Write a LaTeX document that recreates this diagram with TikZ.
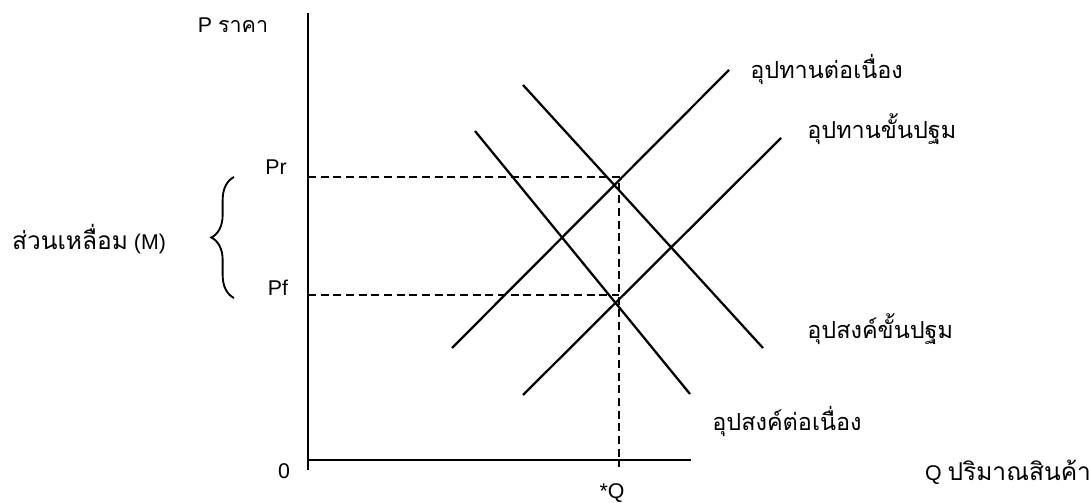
\documentclass[tikz,border=0pt]{standalone}
\usepackage{fontspec}
\setmainfont{Liberation Sans}
\newfontfamily\thaifont[Script=Thai,Scale=1.15]{Loma}
\usetikzlibrary{decorations.pathreplacing}
\begin{document}
\begin{tikzpicture}[x=0.75pt,y=-0.75pt,
  curve/.style={line width=1.7pt},
  axisline/.style={line width=1.7pt},
  guide/.style={line width=1.6pt, dash pattern=on 6pt off 3.5pt},
  lbl/.style={inner sep=0pt, font=\fontsize{16}{19}\selectfont},
  tlbl/.style={inner sep=0pt, anchor=base west, font=\fontsize{15.3}{18}\selectfont\thaifont}]
\useasboundingbox (0,0) rectangle (1089,503);
% axes
\coordinate (ytop) at (308,13);
\coordinate (ybot) at (308,470);
\coordinate (xl) at (308,460);
\coordinate (xr) at (691,460);
\draw[axisline] (ytop) -- (ybot);
\draw[axisline] (xl) -- (xr);
% curves
\coordinate (sc1) at (452,348); \coordinate (sc2) at (729,70);
\coordinate (sp1) at (523,395); \coordinate (sp2) at (781,138);
\coordinate (dp1) at (523,85);  \coordinate (dp2) at (763,348);
\coordinate (dc1) at (475,131); \coordinate (dc2) at (690,394);
\draw[curve] (sc1) -- (sc2);
\draw[curve] (sp1) -- (sp2);
\draw[curve] (dp1) -- (dp2);
\draw[curve] (dc1) -- (dc2);
% guides
\coordinate (pr) at (308,177);
\coordinate (pf) at (308,295);
\coordinate (er) at (619,177);
\coordinate (ef) at (619,295);
\coordinate (qb) at (619,467);
\draw[guide] (pr) -- (er) -- (qb);
\draw[guide] (pf) -- (ef);
% brace
\coordinate (bb) at (234,298);
\coordinate (bt) at (234,177);
\draw[line width=1.4pt, decorate, decoration={brace, amplitude=17pt}] (bb) -- (bt);
% labels
\node[lbl] (plab) at (233,25) {P {\thaifont\fontsize{14}{17}\selectfont ราคา}};
\node[lbl] (prlab) at (276,167) {Pr};
\node[lbl] (pflab) at (278,288) {Pf};
\node[lbl] (mlab) at (89,239) {{\thaifont ส่วนเหลื่อม} (M)};
\node[lbl] (zero) at (284,471) {0};
\node[lbl] (qstar) at (612,493) {*Q};
\node[lbl] (qlab) at (1008,472) {Q {\thaifont ปริมาณสินค้า}};
\node[tlbl] (sclab) at (750,79) {อุปทานต่อเนื่อง};
\node[tlbl] (splab) at (807,138) {อุปทานขั้นปฐม};
\node[tlbl] (dplab) at (807,338) {อุปสงค์ขั้นปฐม};
\node[tlbl] (dclab) at (712,430) {อุปสงค์ต่อเนื่อง};
\end{tikzpicture}
\end{document}
